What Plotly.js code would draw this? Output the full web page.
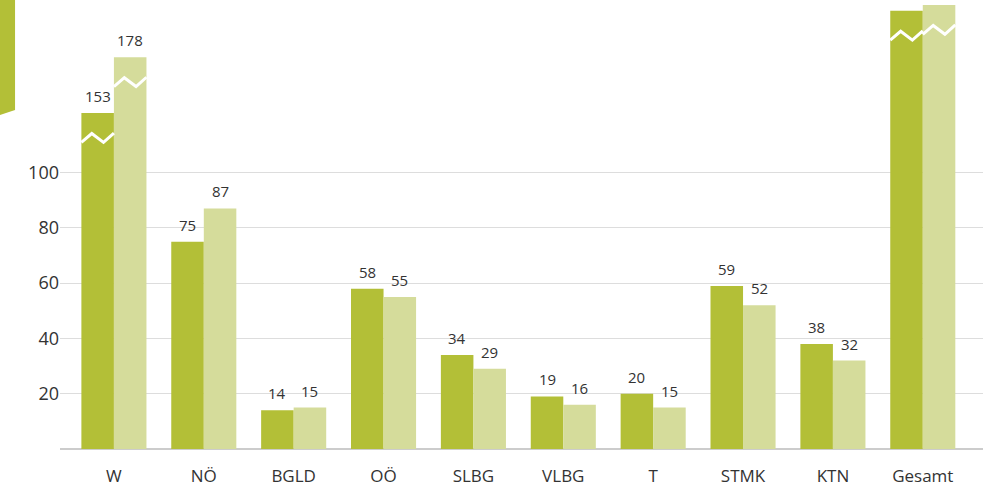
<!DOCTYPE html>
<html>
<head>
<meta charset="utf-8">
<script src="https://cdn.plot.ly/plotly-3.0.1.min.js"></script>
<style>
  html, body { margin: 0; padding: 0; background: #fff; }
  #chart { width: 1007px; height: 489px; }
</style>
</head>
<body>
<div id="chart"></div>
<script>
// Categories (Austrian federal states + total)
const categories = ['W', 'NÖ', 'BGLD', 'OÖ', 'SLBG', 'VLBG', 'T', 'STMK', 'KTN', 'Gesamt'];

// Bar heights as drawn on the (broken) axis
const heightsDark  = [121.5, 75, 14, 58, 34, 19, 20, 59, 38, 158.5];
const heightsLight = [141.7, 87, 15, 55, 29, 16, 15, 52, 32, 160.6];

// Value labels printed above the bars (Gesamt labels are cut off in the original)
const labelsDark  = ['153', '75', '14', '58', '34', '19', '20', '59', '38', ''];
const labelsLight = ['178', '87', '15', '55', '29', '16', '15', '52', '32', ''];

// Bars whose axis is broken (zigzag mark)
const brokenCategories = ['W', 'Gesamt'];

// Y-axis tick labels
const yTicks = [20, 40, 60, 80, 100];

const colorDark = '#b3bf37';
const colorLight = '#d5dc9b';

const bargap = 0.276;
const barW = (1 - bargap) / 2;
const xRange = [-0.6, 9.67];
const margin = { l: 60, r: 24, t: 0, b: 40 };
const pxPerCat = (1007 - margin.l - margin.r) / (xRange[1] - xRange[0]);

const textFont = { family: 'Open Sans, sans-serif', size: 15, color: '#333333' };

const traces = [
  {
    type: 'bar', x: categories, y: heightsDark,
    marker: { color: colorDark }, hoverinfo: 'skip', showlegend: false
  },
  {
    type: 'bar', x: categories, y: heightsLight,
    marker: { color: colorLight }, hoverinfo: 'skip', showlegend: false
  }
];

// value labels as annotations above each bar
const annotations = [];
categories.forEach((c, i) => {
  [[heightsDark, labelsDark, -1], [heightsLight, labelsLight, 1]].forEach(([h, l, s]) => {
    if (!l[i]) return;
    annotations.push({
      x: c, y: h[i], xref: 'x', yref: 'y', text: l[i], showarrow: false,
      xanchor: 'center', yanchor: 'bottom', xshift: s * barW / 2 * pxPerCat, yshift: 5,
      font: textFont
    });
  });
});

// zigzag break marks, placed relative to each broken bar's top
const shapes = [];
const breakDepth = 9, amp = 1.6;
function zigzag(center, top) {
  const x0 = center - barW / 2, x1 = center + barW / 2;
  const yb = top - breakDepth;
  const pts = [[x0, yb - amp], [x0 + barW * 0.32, yb + amp], [x0 + barW * 0.68, yb - amp], [x1, yb + amp * 1.1]];
  let d = 'M ' + pts.map(p => p[0] + ',' + p[1]).join(' L ');
  shapes.push({ type: 'path', xref: 'x', yref: 'y', path: d, layer: 'above',
    line: { color: '#ffffff', width: 3 } });
}
brokenCategories.forEach(c => {
  const i = categories.indexOf(c);
  zigzag(i - barW / 2, heightsDark[i]);
  zigzag(i + barW / 2, heightsLight[i]);
});

// green tab at top left
shapes.push({
  type: 'path', xref: 'paper', yref: 'paper', layer: 'above',
  path: 'M -0.066,1.01 L -0.0487,1.01 L -0.0487,0.755 L -0.066,0.743 Z',
  fillcolor: colorDark, line: { width: 0 }
});

const layout = {
  width: 1007, height: 489,
  margin: margin,
  paper_bgcolor: '#ffffff', plot_bgcolor: '#ffffff',
  barmode: 'group', bargap: bargap, bargroupgap: 0,
  font: { family: 'Open Sans, sans-serif', color: '#333333' },
  xaxis: {
    type: 'category', range: xRange,
    showgrid: false, showline: false, zeroline: false, ticks: '',
    tickfont: { family: 'Open Sans, sans-serif', size: 17, color: '#333333' },
    ticklabelstandoff: 15
  },
  yaxis: {
    range: [0, 162.4], tickvals: yTicks, ticktext: yTicks.map(String),
    showgrid: true, gridcolor: '#dddddd', gridwidth: 1,
    zeroline: true, zerolinecolor: '#cccccc', zerolinewidth: 2,
    showline: false, ticks: '',
    tickfont: { family: 'Open Sans, sans-serif', size: 18, color: '#333333' }
  },
  annotations: annotations,
  shapes: shapes
};

Plotly.newPlot('chart', traces, layout, { displayModeBar: false, staticPlot: true });
</script>
</body>
</html>
